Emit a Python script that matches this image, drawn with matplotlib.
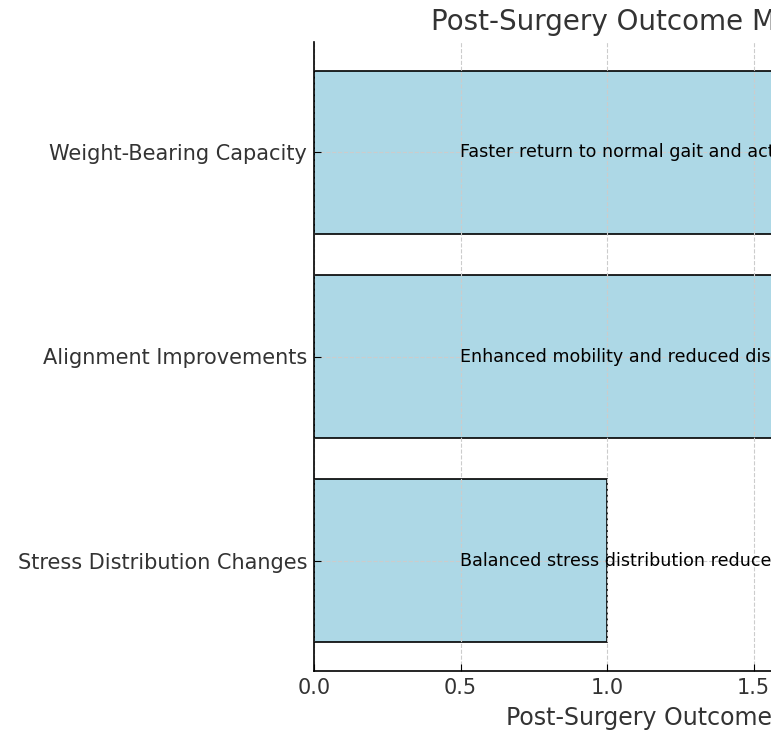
import matplotlib
matplotlib.use("Agg")
import matplotlib.pyplot as plt

# data (bottom to top)
categories = ["Stress Distribution Changes", "Alignment Improvements", "Weight-Bearing Capacity"]
values = [1, 2, 2]
notes = ["Balanced stress distribution reduces joint wear",
         "Enhanced mobility and reduced discomfort",
         "Faster return to normal gait and activity"]
xticks = [0.0, 0.5, 1.0, 1.5, 2.0]

txt = "#333333"
W, H, dpi = 771, 732, 100
fig = plt.figure(figsize=(W / dpi, H / dpi), dpi=dpi)

# axes runs past the right edge of the picture, as in the reference
left, right, top, bottom = 314, 970, 42, 671
ax = fig.add_axes([left / W, 1 - bottom / H, (right - left) / W, (bottom - top) / H])

ax.barh(categories, values, height=0.8, color="lightblue", edgecolor="black", linewidth=1.2)
for i, n in enumerate(notes):
    ax.text(0.5, i, n, va="center", ha="left", fontsize=12.65, color="black")

ax.set_xlim(0, (right - left) / 293)
ax.set_xticks(xticks)
ax.set_axisbelow(False)
ax.grid(True, linestyle="--", color="#cccccc", linewidth=0.8)
for s in ["top", "right"]:
    ax.spines[s].set_visible(False)
for s in ["left", "bottom"]:
    ax.spines[s].set_linewidth(1.2)
    ax.spines[s].set_zorder(4)
ax.tick_params(direction="in", length=5, pad=5, labelsize=15, labelcolor=txt)

ax.set_title("Post-Surgery Outcome Metrics", fontsize=20, color=txt, pad=9)
ax.set_xlabel("Post-Surgery Outcome Score", fontsize=17, color=txt, ha="left")
ax.xaxis.set_label_coords((506 - left) / (right - left), -0.056)

fig.savefig("out.png", dpi=dpi)
